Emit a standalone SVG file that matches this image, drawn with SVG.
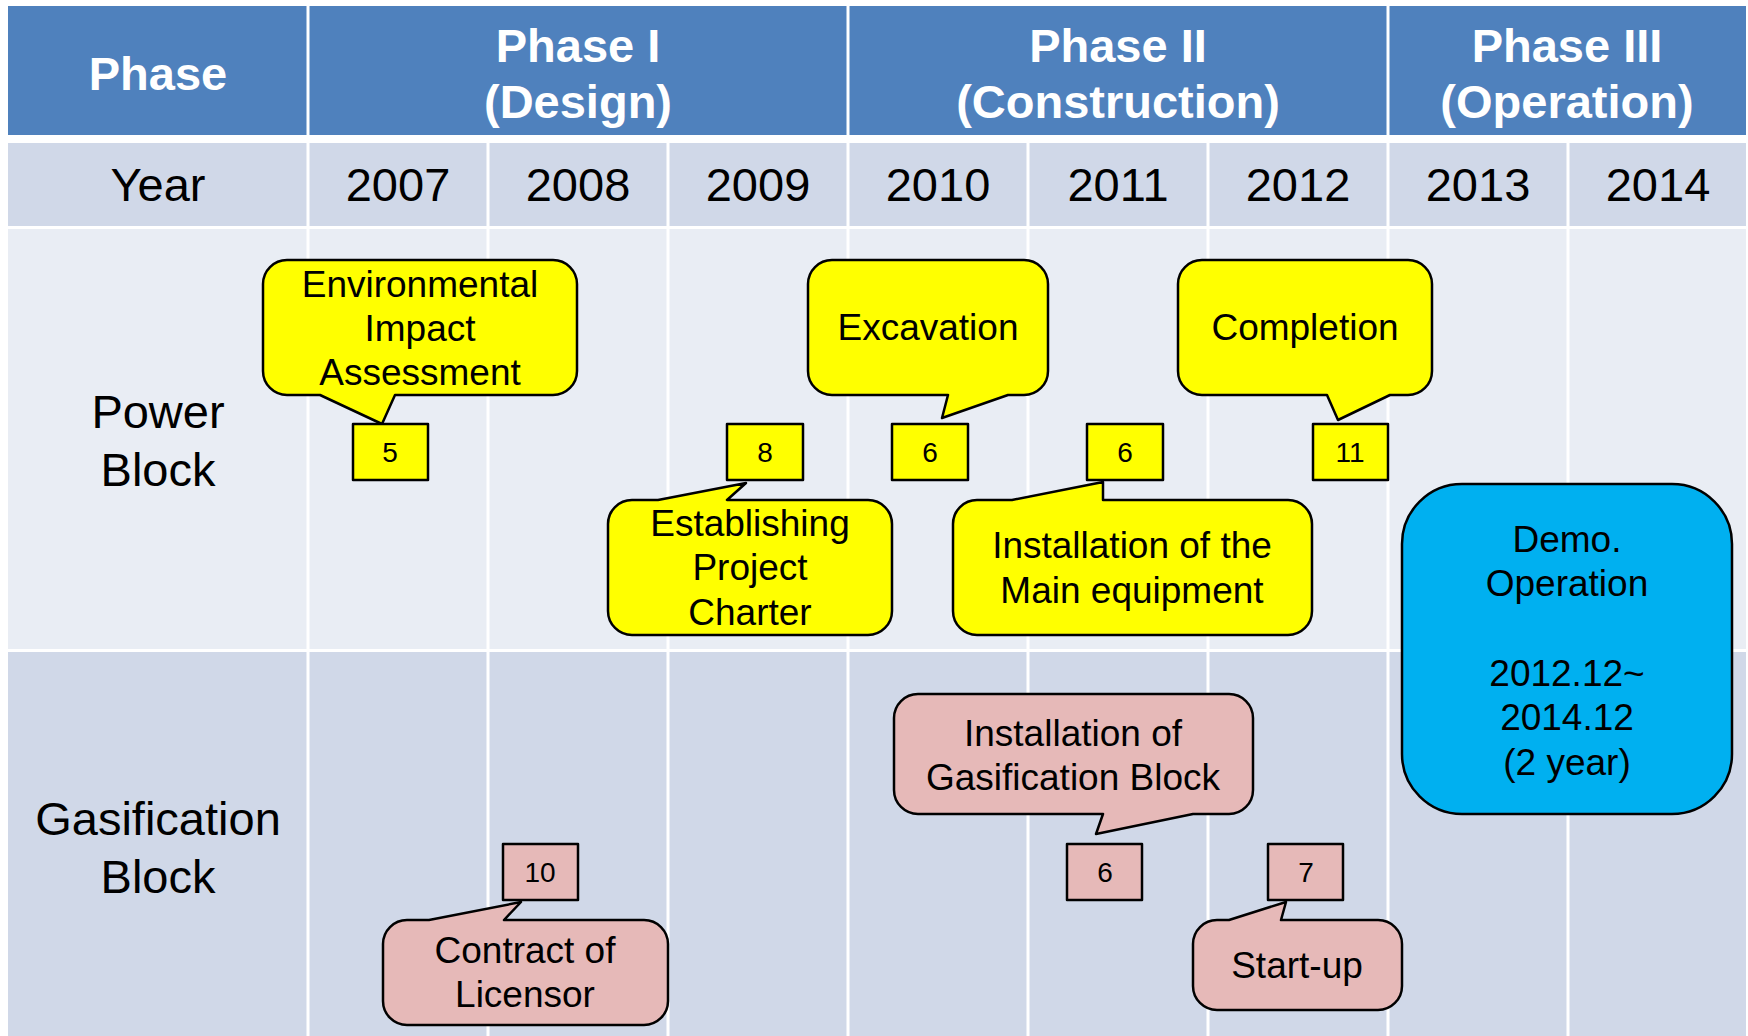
<svg xmlns="http://www.w3.org/2000/svg" width="1748" height="1036" viewBox="0 0 1748 1036">
<style>
text{font-family:"Liberation Sans",Arial,sans-serif;text-anchor:middle;fill:#000}
.hd{font-size:47px;font-weight:bold;fill:#fff}
.yr{font-size:47px}
.lab{font-size:47px}
.ct{font-size:37px}
.num{font-size:28px}
.y{fill:#FFFF00;stroke:#000;stroke-width:2.5;stroke-linejoin:round}
.p{fill:#E6B9B8;stroke:#000;stroke-width:2.5;stroke-linejoin:round}
.grid{stroke:#fff;stroke-width:3}
</style>
<rect width="1748" height="1036" fill="#fff"/>
<g id="table">
<rect x="8" y="6" width="1738" height="129" fill="#4F81BD"/>
<rect x="8" y="143" width="1738" height="83" fill="#D0D8E8"/>
<rect x="8" y="229" width="1738" height="420" fill="#E9EDF4"/>
<rect x="8" y="652" width="1738" height="384" fill="#D0D8E8"/>
<g class="grid">
<line x1="308" y1="6" x2="308" y2="135"/><line x1="848" y1="6" x2="848" y2="135"/><line x1="1388" y1="6" x2="1388" y2="135"/>
<line x1="308" y1="143" x2="308" y2="1036"/><line x1="488" y1="143" x2="488" y2="1036"/><line x1="668" y1="143" x2="668" y2="1036"/><line x1="848" y1="143" x2="848" y2="1036"/><line x1="1028" y1="143" x2="1028" y2="1036"/><line x1="1208" y1="143" x2="1208" y2="1036"/><line x1="1388" y1="143" x2="1388" y2="1036"/><line x1="1568" y1="143" x2="1568" y2="1036"/>
</g>
<text class="hd" x="158" y="90">Phase</text>
<text class="hd" x="578" y="62">Phase I</text><text class="hd" x="578" y="118">(Design)</text>
<text class="hd" x="1118" y="62">Phase II</text><text class="hd" x="1118" y="118">(Construction)</text>
<text class="hd" x="1567" y="62">Phase III</text><text class="hd" x="1567" y="118">(Operation)</text>
<text class="yr" x="158" y="201">Year</text>
<text class="yr" x="398" y="201">2007</text><text class="yr" x="578" y="201">2008</text><text class="yr" x="758" y="201">2009</text><text class="yr" x="938" y="201">2010</text><text class="yr" x="1118" y="201">2011</text><text class="yr" x="1298" y="201">2012</text><text class="yr" x="1478" y="201">2013</text><text class="yr" x="1658" y="201">2014</text>
<text class="lab" x="158" y="428">Power</text><text class="lab" x="158" y="486">Block</text>
<text class="lab" x="158" y="835">Gasification</text><text class="lab" x="158" y="893">Block</text>
</g>
<g id="connectors"/>
<g id="eia">
<path class="y" d="M287,260 H553 A24,24 0 0 1 577,284 V371 A24,24 0 0 1 553,395 H395 L382,424 L320,395 H287 A24,24 0 0 1 263,371 V284 A24,24 0 0 1 287,260 Z"/>
<text class="ct" x="420" y="297">Environmental</text><text class="ct" x="420" y="341">Impact</text><text class="ct" x="420" y="385">Assessment</text>
</g>
<g id="excavation">
<path class="y" d="M832,260 H1024 A24,24 0 0 1 1048,284 V371 A24,24 0 0 1 1024,395 H1008 L942,418 L948,395 H832 A24,24 0 0 1 808,371 V284 A24,24 0 0 1 832,260 Z"/>
<text class="ct" x="928" y="340">Excavation</text>
</g>
<g id="completion">
<path class="y" d="M1202,260 H1408 A24,24 0 0 1 1432,284 V371 A24,24 0 0 1 1408,395 H1390 L1338,420 L1327,395 H1202 A24,24 0 0 1 1178,371 V284 A24,24 0 0 1 1202,260 Z"/>
<text class="ct" x="1305" y="340">Completion</text>
</g>
<g id="charter">
<path class="y" d="M632,500 H658 L746,483 L727,500 H868 A24,24 0 0 1 892,524 V611 A24,24 0 0 1 868,635 H632 A24,24 0 0 1 608,611 V524 A24,24 0 0 1 632,500 Z"/>
<text class="ct" x="750" y="536">Establishing</text><text class="ct" x="750" y="580">Project</text><text class="ct" x="750" y="625">Charter</text>
</g>
<g id="main-equipment">
<path class="y" d="M977,500 H1012 L1103,482 L1103,500 H1288 A24,24 0 0 1 1312,524 V611 A24,24 0 0 1 1288,635 H977 A24,24 0 0 1 953,611 V524 A24,24 0 0 1 977,500 Z"/>
<text class="ct" x="1132" y="558">Installation of the</text><text class="ct" x="1132" y="603">Main equipment</text>
</g>
<g id="n5"><rect class="y" x="353" y="424" width="75" height="56"/><text class="num" x="390" y="462">5</text></g>
<g id="n8"><rect class="y" x="727" y="424" width="76" height="56"/><text class="num" x="765" y="462">8</text></g>
<g id="n6a"><rect class="y" x="892" y="424" width="76" height="56"/><text class="num" x="930" y="462">6</text></g>
<g id="n6b"><rect class="y" x="1087" y="424" width="76" height="56"/><text class="num" x="1125" y="462">6</text></g>
<g id="n11"><rect class="y" x="1313" y="424" width="75" height="56"/><text class="num" x="1350" y="462">11</text></g>
<g id="demo">
<rect x="1402" y="484" width="330" height="330" rx="60" ry="60" fill="#00B0F0" stroke="#000" stroke-width="2.5"/>
<text class="ct" x="1567" y="552">Demo.</text><text class="ct" x="1567" y="596">Operation</text>
<text class="ct" x="1567" y="686">2012.12~</text><text class="ct" x="1567" y="730">2014.12</text><text class="ct" x="1567" y="775">(2 year)</text>
</g>
<g id="licensor">
<path class="p" d="M407,920 H429 L521,902 L504,920 H644 A24,24 0 0 1 668,944 V1001 A24,24 0 0 1 644,1025 H407 A24,24 0 0 1 383,1001 V944 A24,24 0 0 1 407,920 Z"/>
<text class="ct" x="525" y="963">Contract of</text><text class="ct" x="525" y="1007">Licensor</text>
</g>
<g id="gas-install">
<path class="p" d="M918,694 H1229 A24,24 0 0 1 1253,718 V790 A24,24 0 0 1 1229,814 H1193 L1096,834 L1103,814 H918 A24,24 0 0 1 894,790 V718 A24,24 0 0 1 918,694 Z"/>
<text class="ct" x="1073" y="746">Installation of</text><text class="ct" x="1073" y="790">Gasification Block</text>
</g>
<g id="startup">
<path class="p" d="M1217,920 H1229 L1286,902 L1281,920 H1378 A24,24 0 0 1 1402,944 V986 A24,24 0 0 1 1378,1010 H1217 A24,24 0 0 1 1193,986 V944 A24,24 0 0 1 1217,920 Z"/>
<text class="ct" x="1297" y="978">Start-up</text>
</g>
<g id="n10"><rect class="p" x="503" y="844" width="75" height="56"/><text class="num" x="540" y="882">10</text></g>
<g id="n6c"><rect class="p" x="1067" y="844" width="75" height="56"/><text class="num" x="1105" y="882">6</text></g>
<g id="n7"><rect class="p" x="1268" y="844" width="75" height="56"/><text class="num" x="1306" y="882">7</text></g>
</svg>
